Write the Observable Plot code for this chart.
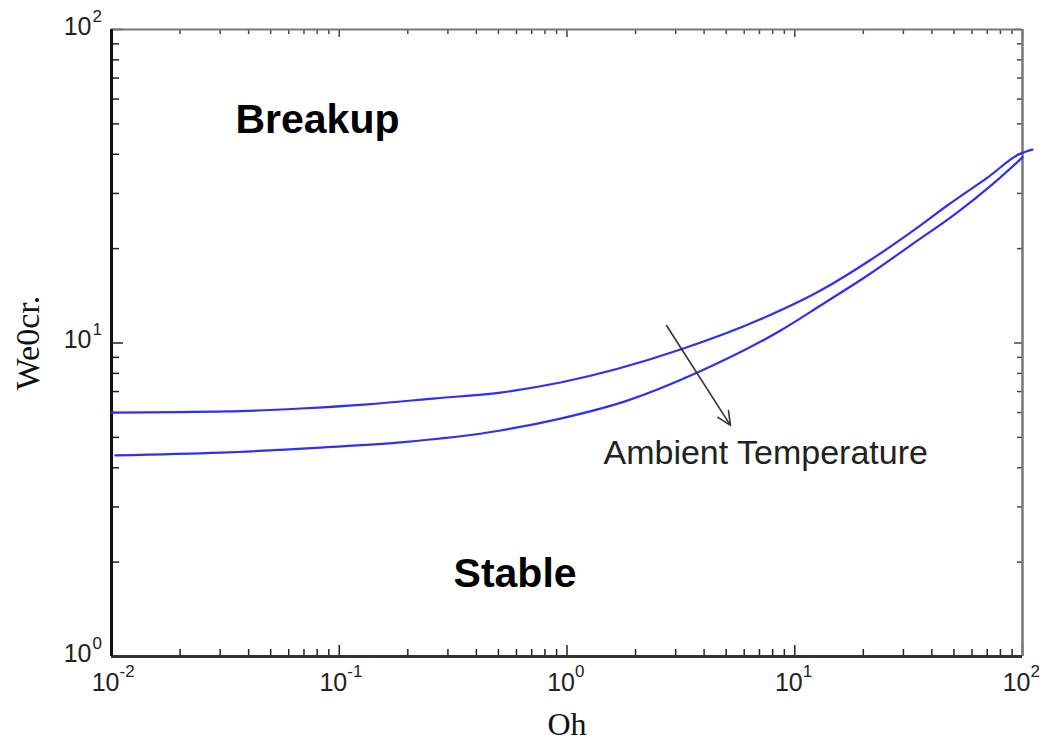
<!DOCTYPE html>
<html>
<head>
<meta charset="utf-8">
<script src="https://cdn.jsdelivr.net/npm/d3@7"></script>
<script src="https://cdn.jsdelivr.net/npm/@observablehq/plot@0.6"></script>
<style>
  html, body { margin: 0; padding: 0; background: #fff; }
  #chart svg { display: block; }
</style>
</head>
<body>
<div id="chart"></div>
<script>
// ---- data ----
const ohUpper = [0.01, 0.0323, 0.0676, 0.133, 0.259, 0.511, 0.936, 3.15, 7.07, 12.97, 21.5, 32.2, 46.9, 70.2, 98, 110.6];
const weUpper = [6.00, 6.05, 6.18, 6.37, 6.65, 6.95, 7.48, 9.53, 11.9, 14.7, 18.4, 22.5, 27.5, 33.7, 40.2, 41.4];
const ohLower = [0.0104, 0.0301, 0.0827, 0.186, 0.511, 0.936, 1.84, 3.74, 8.66, 12.97, 21.5, 32.2, 51.8, 74.6, 100];
const weLower = [4.38, 4.47, 4.64, 4.82, 5.26, 5.74, 6.55, 8.05, 10.96, 13.17, 16.66, 20.46, 26.1, 32.3, 39.1];

const xMajorTicks = [0.01, 0.1, 1, 10, 100];
const xTickExponents = ["-2", "-1", "0", "1", "2"];
const yMajorTicks = [1, 10, 100];
const yTickExponents = ["0", "1", "2"];
const tickBase = "10";
const minorMultipliers = [2, 3, 4, 5, 6, 7, 8, 9];

const regionLabels = ["Breakup", "Stable"];
const regionOh = [0.035, 0.3176];
const regionWe = [51.6, 1.84];

const noteText = ["Ambient Temperature"];
const noteOh = [1.446];
const noteWe = [4.47];

const arrowFromOh = [2.735], arrowFromWe = [11.37];
const arrowToOh = [5.22], arrowToWe = [5.46];

const xTitle = "Oh";
const yTitle = "We0cr.";

// ---- derived tables ----
const upper = ohUpper.map((x, i) => ({oh: x, we: weUpper[i]}));
const lower = ohLower.map((x, i) => ({oh: x, we: weLower[i]}));
const xMinor = xMajorTicks.slice(0, -1).flatMap(d => minorMultipliers.map(m => d * m));
const yMinor = yMajorTicks.slice(0, -1).flatMap(d => minorMultipliers.map(m => d * m));
const xLab = xMajorTicks.map((v, i) => ({v, e: xTickExponents[i]}));
const yLab = yMajorTicks.map((v, i) => ({v, e: yTickExponents[i]}));
const regions = regionLabels.map((t, i) => ({t, oh: regionOh[i], we: regionWe[i]}));
const notes = noteText.map((t, i) => ({t, oh: noteOh[i], we: noteWe[i]}));
const arrows = arrowFromOh.map((d, i) => ({x1: d, y1: arrowFromWe[i], x2: arrowToOh[i], y2: arrowToWe[i]}));

const W = 1045, H = 743;
const mL = 111, mR = 23, mT = 29, mB = 87;
const innerW = W - mL - mR, innerH = H - mT - mB;

const sans = "'Liberation Sans', Arial, Helvetica, sans-serif";
const serif = "'Liberation Serif', 'Times New Roman', serif";
const blue = "#3030f0";
const labelColor = "#222";

const chart = Plot.plot({
  width: W, height: H,
  marginLeft: mL, marginRight: mR, marginTop: mT, marginBottom: mB,
  style: {background: "#fff", fontFamily: sans, overflow: "visible"},
  x: {type: "log", domain: [0.01, 100], axis: null},
  y: {type: "log", domain: [1, 100], axis: null},
  marks: [
    // inward ticks: bottom
    Plot.tickX(xMinor, {x: d => d, insetTop: innerH - 7, stroke: "#222", strokeWidth: 1.5}),
    Plot.tickX(xMajorTicks, {x: d => d, insetTop: innerH - 11, stroke: "#222", strokeWidth: 1.5}),
    // top
    Plot.tickX(xMinor, {x: d => d, insetBottom: innerH - 5, stroke: "#444", strokeWidth: 1.5}),
    Plot.tickX(xMajorTicks, {x: d => d, insetBottom: innerH - 8, stroke: "#444", strokeWidth: 1.5}),
    // left
    Plot.tickY(yMinor, {y: d => d, insetRight: innerW - 8, stroke: "#222", strokeWidth: 1.5}),
    Plot.tickY(yMajorTicks, {y: d => d, insetRight: innerW - 12, stroke: "#222", strokeWidth: 1.5}),
    // right
    Plot.tickY(yMinor, {y: d => d, insetLeft: innerW - 5, stroke: "#444", strokeWidth: 1.5}),
    Plot.tickY(yMajorTicks, {y: d => d, insetLeft: innerW - 8, stroke: "#444", strokeWidth: 1.5}),
    // frame sides
    Plot.ruleY([100], {stroke: "#777", strokeWidth: 2}),
    Plot.ruleX([100], {stroke: "#777", strokeWidth: 2.5}),
    Plot.ruleY([1], {stroke: "#333", strokeWidth: 3}),
    Plot.ruleX([0.01], {stroke: "#111", strokeWidth: 3}),
    // curves
    Plot.line(upper, {x: "oh", y: "we", stroke: blue, strokeWidth: 2.2, curve: "monotone-x"}),
    Plot.line(lower, {x: "oh", y: "we", stroke: blue, strokeWidth: 2.2, curve: "monotone-x"}),
    // arrow
    Plot.arrow(arrows, {x1: "x1", y1: "y1", x2: "x2", y2: "y2", stroke: "#333", strokeWidth: 1.6, headLength: 14, headAngle: 50}),
    // x tick labels: base + superscript exponent
    Plot.text(xLab, {x: "v", y: () => 1, text: () => tickBase, textAnchor: "end", lineAnchor: "middle", dx: 8, dy: 26, fontSize: 25, fill: labelColor}),
    Plot.text(xLab, {x: "v", y: () => 1, text: "e", textAnchor: "start", lineAnchor: "middle", dx: 8, dy: 15, fontSize: 17, fill: labelColor}),
    // y tick labels
    Plot.text(yLab, {x: () => 0.01, y: "v", text: () => tickBase, textAnchor: "end", lineAnchor: "middle", dx: -20, dy: -3, fontSize: 25, fill: labelColor}),
    Plot.text(yLab, {x: () => 0.01, y: "v", text: "e", textAnchor: "start", lineAnchor: "middle", dx: -19, dy: -13, fontSize: 17, fill: labelColor}),
    // annotations
    Plot.text(regions, {x: "oh", y: "we", text: "t", textAnchor: "start", lineAnchor: "middle", fontSize: 41, fontWeight: "bold", fill: "#000"}),
    Plot.text(notes, {x: "oh", y: "we", text: "t", textAnchor: "start", lineAnchor: "middle", fontSize: 34, fill: "#222"}),
    // axis titles
    Plot.text([xTitle], {frameAnchor: "bottom", text: d => d, textAnchor: "middle", lineAnchor: "middle", dy: 68, fontSize: 32, fontFamily: serif, fill: "#111"}),
    Plot.text([yTitle], {frameAnchor: "left", text: d => d, rotate: -90, textAnchor: "middle", lineAnchor: "middle", dx: -83, fontSize: 34, fontFamily: serif, fill: "#111"})
  ]
});
document.getElementById("chart").appendChild(chart);
</script>
</body>
</html>
